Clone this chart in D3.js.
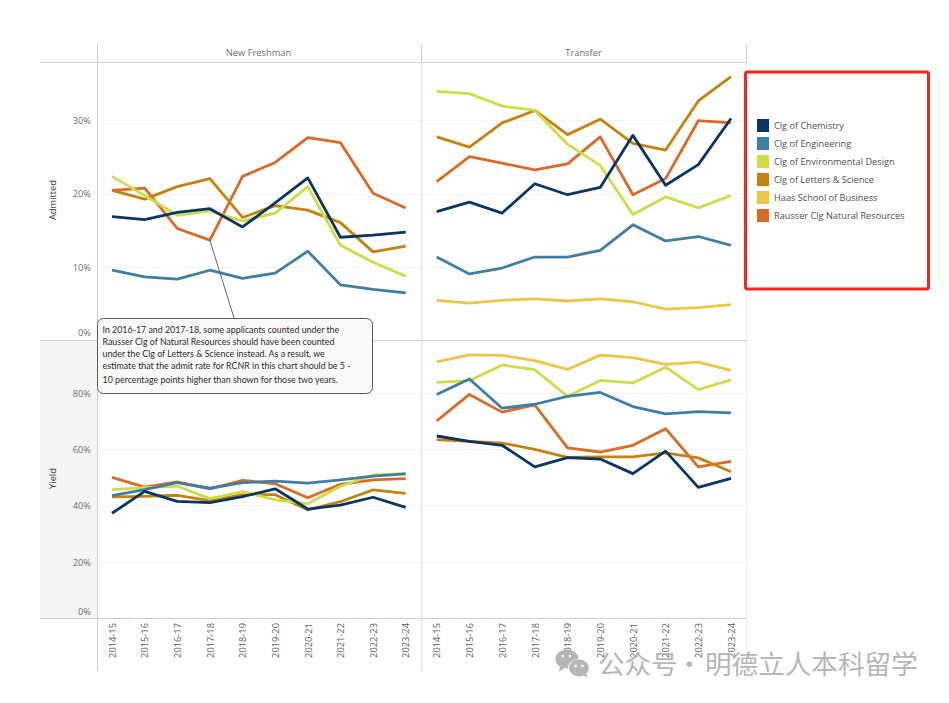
<!DOCTYPE html>
<html><head><meta charset="utf-8">
<script src="https://cdn.jsdelivr.net/npm/d3@7"></script>
<style>html,body{margin:0;padding:0;background:#fff}svg{display:block}</style>
</head><body><svg id="c" width="949" height="703"></svg>
<script>
const years = ["2014-15","2015-16","2016-17","2017-18","2018-19","2019-20","2020-21","2021-22","2022-23","2023-24"];
const colleges = ["Clg of Chemistry","Clg of Engineering","Clg of Environmental Design","Clg of Letters & Science","Haas School of Business","Rausser Clg Natural Resources"];
const collegeColors = ["#0a3565","#3f7ea6","#cfdd45","#c5830d","#ecc644","#dd6a24"];
const drawOrder = [5,4,3,2,1,0];

const admitFreshChem = [16.9,16.5,17.5,18.0,15.5,18.8,22.2,14.1,14.4,14.8];
const admitFreshEng = [9.6,8.7,8.4,9.6,8.5,9.2,12.2,7.6,7.0,6.5];
const admitFreshEnv = [22.4,19.8,17.1,17.7,16.3,17.4,21.0,13.0,10.7,8.8];
const admitFreshLS = [20.5,19.3,21.0,22.1,16.8,18.4,17.8,16.1,12.1,12.9];
const admitFreshRCNR = [20.5,20.8,15.3,13.7,22.4,24.3,27.7,27.0,20.1,18.1];

const admitTransChem = [17.6,18.9,17.4,21.4,19.9,20.9,28.0,21.2,24.0,30.3];
const admitTransEng = [11.4,9.1,9.9,11.4,11.4,12.3,15.8,13.6,14.2,13.0];
const admitTransEnv = [34.0,33.7,32.0,31.4,26.8,23.9,17.2,19.6,18.1,19.8];
const admitTransLS = [27.8,26.4,29.7,31.4,28.1,30.2,26.9,26.0,32.7,36.0];
const admitTransHaas = [5.5,5.1,5.5,5.7,5.4,5.7,5.3,4.3,4.5,4.9];
const admitTransRCNR = [21.7,25.1,24.2,23.3,24.1,27.8,19.9,22.1,30.0,29.7];

const yieldFreshChem = [37.4,45.2,41.6,41.2,43.3,46.1,38.9,40.3,43.1,39.5];
const yieldFreshEng = [43.7,45.8,48.3,46.3,48.3,48.8,48.1,49.3,50.6,51.4];
const yieldFreshEnv = [45.8,46.5,47.0,42.6,45.1,42.2,40.8,47.0,51.0,51.6];
const yieldFreshLS = [43.2,43.4,43.8,41.9,44.0,44.0,38.6,41.5,45.7,44.5];
const yieldFreshRCNR = [50.2,46.7,48.6,46.1,49.1,47.9,42.9,47.7,49.3,49.7];

const yieldTransChem = [64.9,63.0,61.6,53.9,57.2,56.7,51.5,59.5,46.6,49.8];
const yieldTransEng = [79.7,85.2,74.8,76.2,79.0,80.4,75.4,72.8,73.6,73.1];
const yieldTransEnv = [84.0,84.6,90.2,88.5,79.0,84.7,83.8,89.4,81.4,84.9];
const yieldTransLS = [63.6,63.0,62.4,60.1,57.3,57.5,57.5,58.9,57.1,52.2];
const yieldTransHaas = [91.3,93.8,93.6,91.7,88.6,93.7,92.8,90.4,91.2,88.3];
const yieldTransRCNR = [70.3,79.7,73.4,76.0,60.7,59.2,61.6,67.5,53.9,55.9];

const admitTicks = [0,10,20,30];
const yieldTicks = [0,20,40,60,80];
const noteLines = [
 "In 2016-17 and 2017-18, some applicants counted under the",
 "Rausser Clg of Natural Resources should have been counted",
 "under the Clg of Letters & Science instead. As a result, we",
 "estimate that the admit rate for RCNR in this chart should be 5 -",
 "10 percentage points higher than shown for those two years."];
const watermarkParts = ["公众号","·","明德立人本科留学"];

const font = "'Open Sans','Noto Sans',sans-serif";
const svg = d3.select("#c").style("font-family", font);

const xFresh = d3.scalePoint().domain(years).range([112,405.7]);
const xTrans = d3.scalePoint().domain(years).range([436.7,731]);
const yAdmit = d3.scaleLinear().domain([0,37.94]).range([340.6,62.5]);
const yYield = d3.scaleLinear().domain([0,98.9]).range([618.3,340.5]);

svg.append("rect").attr("x",40).attr("y",341).attr("width",57).attr("height",277).attr("fill","#f5f5f5");

function grid(scale, ticks){
  svg.append("g").selectAll("line").data(ticks.filter(d=>d>0)).join("line")
    .attr("x1",97).attr("x2",746).attr("y1",d=>Math.floor(scale(d))+.5).attr("y2",d=>Math.floor(scale(d))+.5)
    .attr("stroke","#f4f4f4").attr("stroke-width",1);
}
grid(yAdmit, admitTicks); grid(yYield, yieldTicks);

const frame = [
 [40,62.5,746,62.5,"#cfcfcf",1],[40,340.5,746,340.5,"#cfcfcf",1],[40,618.5,746,618.5,"#cfcfcf",1],
 [97.5,44,97.5,671,"#cfcfcf",1],[421.5,62,421.5,671,"#e9e9e9",2],[421.5,44,421.5,62,"#cfcfcf",1],
 [746.5,44,746.5,62,"#cfcfcf",1],[746.5,62,746.5,671,"#efefef",1]];
svg.append("g").selectAll("line").data(frame).join("line")
  .attr("x1",d=>d[0]).attr("y1",d=>d[1]).attr("x2",d=>d[2]).attr("y2",d=>d[3])
  .attr("stroke",d=>d[4]).attr("stroke-width",d=>d[5]);

svg.append("g").selectAll("text").data([["New Freshman",258.5],["Transfer",583.5]]).join("text")
  .attr("x",d=>d[1]).attr("y",56).attr("text-anchor","middle")
  .attr("font-size",9.3).attr("fill","#6e6e6e").text(d=>d[0]);

function yAxis(scale, ticks, zeroLift){
  const g = svg.append("g").attr("transform","translate(97,0)")
    .call(d3.axisLeft(scale).tickValues(ticks).tickFormat(d=>d+"%").tickSize(0).tickPadding(6));
  g.select(".domain").remove();
  g.selectAll("text").attr("font-family",font).attr("font-size",9.3).attr("fill","#6e6e6e")
    .attr("dy",d=>d===0?(0.32*9.3-zeroLift)+"px":(0.32*9.3)+"px");
}
yAxis(yAdmit, admitTicks, 8);
yAxis(yYield, yieldTicks, 7);

svg.append("g").selectAll("text").data([["Admitted",200],["Yield",478.5]]).join("text")
  .attr("transform",d=>`translate(56,${d[1]}) rotate(-90)`).attr("text-anchor","middle")
  .attr("font-size",9.3).attr("fill","#3e3e3e").text(d=>d[0]);

[xFresh,xTrans].forEach(x=>{
  const g = svg.append("g").attr("transform","translate(0,618)")
    .call(d3.axisBottom(x).tickSize(0).tickPadding(0));
  g.select(".domain").remove();
  g.selectAll("text").attr("font-family",font).attr("font-size",9.3).attr("fill","#5c5c5c")
    .attr("text-anchor","end").attr("dy",0)
    .attr("transform","translate(3.2,5) rotate(-90)").attr("x",0).attr("y",0);
  const step = x.step();
  g.selectAll("line.sep").data(years.slice(1)).join("line").attr("class","sep")
    .attr("x1",d=>x(d)-step/2).attr("x2",d=>x(d)-step/2)
    .attr("y1",0.5).attr("y2",4).attr("stroke","#eeeeee");
});

const panels = [
 {x:xFresh,y:yAdmit,s:{0:admitFreshChem,1:admitFreshEng,2:admitFreshEnv,3:admitFreshLS,5:admitFreshRCNR}},
 {x:xTrans,y:yAdmit,s:{0:admitTransChem,1:admitTransEng,2:admitTransEnv,3:admitTransLS,4:admitTransHaas,5:admitTransRCNR}},
 {x:xFresh,y:yYield,s:{0:yieldFreshChem,1:yieldFreshEng,2:yieldFreshEnv,3:yieldFreshLS,5:yieldFreshRCNR}},
 {x:xTrans,y:yYield,s:{0:yieldTransChem,1:yieldTransEng,2:yieldTransEnv,3:yieldTransLS,4:yieldTransHaas,5:yieldTransRCNR}}];
panels.forEach(p=>{
  const line = d3.line().x((d,i)=>p.x(years[i])).y(d=>p.y(d));
  drawOrder.filter(k=>p.s[k]).forEach(k=>{
    svg.append("path").attr("d",line(p.s[k])).attr("fill","none")
      .attr("stroke",collegeColors[k]).attr("stroke-width",2.8)
      .attr("stroke-linejoin","round").attr("stroke-linecap","butt");
  });
});

svg.append("line").attr("x1",xFresh("2017-18")).attr("y1",yAdmit(admitFreshRCNR[3]))
  .attr("x2",234).attr("y2",318).attr("stroke","#555").attr("stroke-width",.9);
svg.append("rect").attr("x",97.5).attr("y",318.5).attr("width",275).attr("height",75)
  .attr("rx",6).attr("fill","#f9f9f9").attr("stroke","#5a5a5a").attr("stroke-width",1);
svg.append("g").selectAll("text").data(noteLines).join("text")
  .attr("x",102.5).attr("y",(d,i)=>[333,345,357,369,382.5][i])
  .attr("font-family","Lato").attr("font-size",8.85).attr("fill","#2b2b2b").text(d=>d);

svg.append("rect").attr("x",745.5).attr("y",72).attr("width",183).attr("height",217).attr("rx",2)
  .attr("fill","#fff").attr("stroke","#f7241c").attr("stroke-width",3);
const lg = svg.append("g").selectAll("g").data(colleges).join("g")
  .attr("transform",(d,i)=>`translate(757,${119+i*18})`);
lg.append("rect").attr("width",12).attr("height",13).attr("fill",(d,i)=>collegeColors[i]);
lg.append("text").attr("x",17).attr("y",10).attr("font-size",9.2).attr("fill","#505050").text(d=>d);

const wm = svg.append("g").attr("opacity",.95);
wm.append("ellipse").attr("cx",567).attr("cy",659).attr("rx",11.5).attr("ry",9.5).attr("fill","#b3b3b3");
wm.append("path").attr("d","M560 666 L559 672 L566 667 Z").attr("fill","#b3b3b3");
wm.append("ellipse").attr("cx",579).attr("cy",668).attr("rx",11).attr("ry",9).attr("fill","#fff");
wm.append("ellipse").attr("cx",579).attr("cy",668).attr("rx",10).attr("ry",8.5).attr("fill","#b3b3b3");
wm.append("path").attr("d","M583 675 L588 678 L586 673 Z").attr("fill","#b3b3b3");
[[563,656],[570,656],[575.5,666],[582.5,666]].forEach(c=>wm.append("circle").attr("cx",c[0]).attr("cy",c[1]).attr("r",1.3).attr("fill","#fff"));
wm.append("g").selectAll("text").data(watermarkParts).join("text")
  .attr("x",(d,i)=>[598,676,705][i]).attr("y",674).attr("font-family","'Noto Sans CJK SC'")
  .attr("font-size",26.6).attr("fill","#b3b3b3").text(d=>d);
</script></body></html>
